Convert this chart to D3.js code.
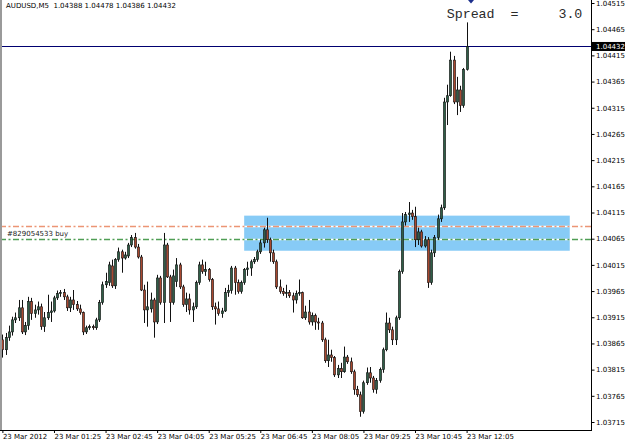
<!DOCTYPE html>
<html>
<head>
<meta charset="utf-8">
<script src="https://cdn.jsdelivr.net/npm/d3@7"></script>
<style>
  body { margin: 0; background: #fff; }
  svg { display: block; font-family: "DejaVu Sans", sans-serif; }
</style>
</head>
<body>
<div id="chart"></div>
<script>
var svgWidth = 625;
var svgHeight = 441;

// chart frame: price axis on the right, time axis at the bottom
var plotRight = 592;
var plotBottom = 430;

var symbolTitle = "AUDUSD,M5  1.04388 1.04478 1.04386 1.04432";
var spreadText = "Spread  =     3.0";
var orderLabel = "#829054533 buy";

var firstBar = "2012-03-23 00:05";
var lastBar = "2012-03-23 12:05";
var barMinutes = 5;

// OHLC of every M5 bar
var opens = [
  1.03872, 1.03853, 1.03876, 1.03887, 1.03910, 1.03914, 1.03933, 1.03887, 1.03899, 1.03945,
  1.03922, 1.03929, 1.03935, 1.03897, 1.03914, 1.03924, 1.03927, 1.03952, 1.03960, 1.03962,
  1.03954, 1.03933, 1.03948, 1.03939, 1.03931, 1.03924, 1.03887, 1.03895, 1.03897, 1.03895,
  1.03910, 1.03943, 1.03977, 1.03981, 1.04013, 1.03975, 1.04025, 1.04040, 1.04028, 1.04032,
  1.04053, 1.04067, 1.04049, 1.04030, 1.03967, 1.03929, 1.03931, 1.03948, 1.03906, 1.03990,
  1.03943, 1.04053, 1.03992, 1.03943, 1.03983, 1.04015, 1.03973, 1.03939, 1.03950, 1.03929,
  1.03935, 1.03981, 1.04015, 1.04002, 1.04006, 1.03987, 1.03935, 1.03931, 1.03922, 1.03927,
  1.03962, 1.03966, 1.04009, 1.03981, 1.03964, 1.03981, 1.04006, 1.04009, 1.04021, 1.04025,
  1.04040, 1.04057, 1.04082, 1.04063, 1.04038, 1.04021, 1.03973, 1.03964, 1.03960, 1.03962,
  1.03956, 1.03948, 1.03960, 1.03962, 1.03914, 1.03925, 1.03906, 1.03918, 1.03906, 1.03904,
  1.03872, 1.03832, 1.03843, 1.03838, 1.03805, 1.03817, 1.03811, 1.03839, 1.03830, 1.03811,
  1.03777, 1.03767, 1.03735, 1.03790, 1.03809, 1.03799, 1.03777, 1.03794, 1.03815, 1.03853,
  1.03904, 1.03891, 1.03872, 1.03914, 1.04002, 1.04097, 1.04111, 1.04114, 1.04107, 1.04063,
  1.04078, 1.04051, 1.04063, 1.03981, 1.04038, 1.04067, 1.04103, 1.04124, 1.04326, 1.04338,
  1.04406, 1.04326, 1.04349, 1.04319, 1.04388
];
var highs = [
  1.03882, 1.03885, 1.03899, 1.03916, 1.03924, 1.03948, 1.03948, 1.03906, 1.03954, 1.03952,
  1.03939, 1.03945, 1.03941, 1.03925, 1.03958, 1.03945, 1.03956, 1.03966, 1.03967, 1.03969,
  1.03958, 1.03954, 1.03967, 1.03946, 1.03939, 1.03926, 1.03899, 1.03901, 1.03901, 1.03914,
  1.03948, 1.03983, 1.04000, 1.04021, 1.04025, 1.04028, 1.04048, 1.04044, 1.04040, 1.04057,
  1.04072, 1.04076, 1.04055, 1.04034, 1.03977, 1.03983, 1.03962, 1.03952, 1.03996, 1.03994,
  1.04076, 1.04057, 1.03996, 1.04006, 1.04028, 1.04019, 1.03977, 1.03962, 1.03960, 1.03943,
  1.03985, 1.04021, 1.04025, 1.04021, 1.04009, 1.03990, 1.03943, 1.03945, 1.03933, 1.03971,
  1.03977, 1.04013, 1.04013, 1.03987, 1.03985, 1.04009, 1.04021, 1.04025, 1.04030, 1.04044,
  1.04063, 1.04086, 1.04105, 1.04067, 1.04044, 1.04025, 1.03987, 1.03971, 1.03977, 1.03967,
  1.03962, 1.03966, 1.03987, 1.03964, 1.03937, 1.03948, 1.03924, 1.03922, 1.03914, 1.03908,
  1.03876, 1.03872, 1.03853, 1.03841, 1.03824, 1.03828, 1.03859, 1.03843, 1.03838, 1.03815,
  1.03784, 1.03773, 1.03794, 1.03819, 1.03820, 1.03803, 1.03799, 1.03819, 1.03857, 1.03924,
  1.03914, 1.03897, 1.03918, 1.04006, 1.04114, 1.04116, 1.04135, 1.04120, 1.04126, 1.04086,
  1.04082, 1.04070, 1.04068, 1.04044, 1.04072, 1.04111, 1.04130, 1.04334, 1.04359, 1.04422,
  1.04414, 1.04374, 1.04357, 1.04391, 1.04478
];
var lows = [
  1.03838, 1.03843, 1.03870, 1.03880, 1.03904, 1.03908, 1.03883, 1.03881, 1.03891, 1.03910,
  1.03914, 1.03920, 1.03891, 1.03887, 1.03910, 1.03906, 1.03924, 1.03948, 1.03954, 1.03948,
  1.03927, 1.03925, 1.03929, 1.03927, 1.03920, 1.03881, 1.03883, 1.03891, 1.03891, 1.03891,
  1.03906, 1.03939, 1.03971, 1.03975, 1.03971, 1.03969, 1.04021, 1.04000, 1.04025, 1.04028,
  1.04049, 1.04046, 1.04027, 1.03965, 1.03904, 1.03897, 1.03924, 1.03876, 1.03902, 1.03939,
  1.03904, 1.03990, 1.03906, 1.03939, 1.03973, 1.03969, 1.03935, 1.03925, 1.03920, 1.03906,
  1.03931, 1.03977, 1.03998, 1.03994, 1.03983, 1.03929, 1.03901, 1.03918, 1.03914, 1.03925,
  1.03954, 1.03960, 1.03958, 1.03960, 1.03960, 1.03977, 1.03994, 1.03994, 1.04017, 1.04021,
  1.04036, 1.04048, 1.04057, 1.04021, 1.04017, 1.03969, 1.03960, 1.03956, 1.03952, 1.03952,
  1.03924, 1.03941, 1.03956, 1.03912, 1.03910, 1.03901, 1.03899, 1.03891, 1.03891, 1.03868,
  1.03828, 1.03820, 1.03830, 1.03801, 1.03799, 1.03799, 1.03809, 1.03826, 1.03807, 1.03767,
  1.03763, 1.03725, 1.03731, 1.03786, 1.03790, 1.03771, 1.03769, 1.03790, 1.03809, 1.03850,
  1.03885, 1.03862, 1.03862, 1.03910, 1.03998, 1.04090, 1.04097, 1.04101, 1.04049, 1.04053,
  1.04048, 1.04048, 1.03971, 1.03977, 1.04030, 1.04063, 1.04097, 1.04120, 1.04282, 1.04336,
  1.04322, 1.04301, 1.04307, 1.04315, 1.04386
];
var closes = [
  1.03853, 1.03876, 1.03887, 1.03910, 1.03914, 1.03933, 1.03887, 1.03899, 1.03945, 1.03922,
  1.03929, 1.03935, 1.03897, 1.03914, 1.03924, 1.03927, 1.03952, 1.03960, 1.03962, 1.03954,
  1.03933, 1.03948, 1.03939, 1.03931, 1.03924, 1.03887, 1.03895, 1.03897, 1.03895, 1.03910,
  1.03943, 1.03977, 1.03983, 1.04015, 1.03975, 1.04025, 1.04040, 1.04028, 1.04034, 1.04053,
  1.04067, 1.04049, 1.04030, 1.03967, 1.03929, 1.03935, 1.03948, 1.03906, 1.03990, 1.03943,
  1.04053, 1.03992, 1.03943, 1.03994, 1.04015, 1.03973, 1.03939, 1.03950, 1.03929, 1.03935,
  1.03981, 1.04015, 1.04002, 1.04006, 1.03987, 1.03935, 1.03931, 1.03922, 1.03927, 1.03962,
  1.03966, 1.04009, 1.03981, 1.03964, 1.03981, 1.04006, 1.04009, 1.04021, 1.04025, 1.04040,
  1.04057, 1.04082, 1.04063, 1.04038, 1.04021, 1.03973, 1.03964, 1.03960, 1.03962, 1.03956,
  1.03948, 1.03960, 1.03962, 1.03914, 1.03925, 1.03906, 1.03918, 1.03906, 1.03904, 1.03872,
  1.03832, 1.03843, 1.03838, 1.03805, 1.03817, 1.03811, 1.03839, 1.03830, 1.03811, 1.03777,
  1.03767, 1.03735, 1.03790, 1.03809, 1.03799, 1.03777, 1.03794, 1.03815, 1.03853, 1.03904,
  1.03891, 1.03872, 1.03914, 1.04002, 1.04097, 1.04111, 1.04114, 1.04107, 1.04063, 1.04078,
  1.04051, 1.04063, 1.03981, 1.04038, 1.04067, 1.04103, 1.04124, 1.04326, 1.04338, 1.04406,
  1.04326, 1.04349, 1.04319, 1.04388, 1.04432
];

var bidPrice = 1.04432;

// price axis labels
var yTicks = [1.04515, 1.04465, 1.04415, 1.04365, 1.04315, 1.04265, 1.04215, 1.04165, 1.04115,
  1.04065, 1.04015, 1.03965, 1.03915, 1.03865, 1.03815, 1.03765, 1.03715];

// time axis labels
var xTickTimes = ["2012-03-23 00:05", "2012-03-23 01:25", "2012-03-23 02:45", "2012-03-23 04:05",
  "2012-03-23 05:25", "2012-03-23 06:45", "2012-03-23 08:05", "2012-03-23 09:25",
  "2012-03-23 10:45", "2012-03-23 12:05"];
var xTickLabels = ["23 Mar 2012", "23 Mar 01:25", "23 Mar 02:45", "23 Mar 04:05", "23 Mar 05:25",
  "23 Mar 06:45", "23 Mar 08:05", "23 Mar 09:25", "23 Mar 10:45", "23 Mar 12:05"];

// order levels (dash-dot lines) and the highlighted rectangle
var levelPrices = [1.04089, 1.04065];
var levelColors = ["#ec9574", "#4f9e55"];
var zoneTimes = ["2012-03-23 06:20", "2012-03-23 14:45"];
var zonePrices = [1.04109, 1.04042];

var parseTime = d3.timeParse("%Y-%m-%d %H:%M");
var t0 = parseTime(firstBar);

var bars = closes.map(function(c, i) {
  return {
    t: new Date(t0.getTime() + i * barMinutes * 60000),
    o: opens[i], h: highs[i], l: lows[i], c: c
  };
});

var svg = d3.select("#chart")
  .append("svg")
  .attr("width", svgWidth)
  .attr("height", svgHeight);

svg.append("rect")
  .attr("width", svgWidth)
  .attr("height", svgHeight)
  .attr("fill", "#fff");

var x = d3.scaleTime()
  .domain([t0, parseTime(lastBar)])
  .range([2.4, 466.6]);

var y = d3.scaleLinear()
  .domain([1.03715, 1.04515])
  .range([422, 3]);

// highlighted zone
svg.append("rect")
  .attr("x", x(parseTime(zoneTimes[0])))
  .attr("y", y(zonePrices[0]))
  .attr("width", x(parseTime(zoneTimes[1])) - x(parseTime(zoneTimes[0])))
  .attr("height", y(zonePrices[1]) - y(zonePrices[0]))
  .attr("fill", "#87cbf6");

// order levels, white under the gaps like the terminal draws them
levelPrices.forEach(function(p, i) {
  var ly = Math.round(y(p)) + 0.5;
  svg.append("line")
    .attr("x1", 0).attr("x2", plotRight)
    .attr("y1", ly).attr("y2", ly)
    .attr("stroke", "#fff")
    .attr("stroke-width", 1.5);
  svg.append("line")
    .attr("x1", 0).attr("x2", plotRight)
    .attr("y1", ly).attr("y2", ly)
    .attr("stroke", levelColors[i])
    .attr("stroke-width", 1.5)
    .attr("stroke-dasharray", "6,2.5,2,2.5");
});

svg.append("text")
  .attr("x", 7)
  .attr("y", y(levelPrices[1]) - 2.7)
  .attr("font-size", 7)
  .attr("fill", "#222")
  .text(orderLabel);

// bid line
var bidY = Math.round(y(bidPrice)) + 0.5;
svg.append("line")
  .attr("x1", 0).attr("x2", plotRight)
  .attr("y1", bidY).attr("y2", bidY)
  .attr("stroke", "#000070")
  .attr("stroke-width", 1);

// candles
var candles = svg.append("g").attr("class", "candles");

candles.selectAll("line")
  .data(bars)
  .enter()
  .append("line")
  .attr("x1", d => Math.round(x(d.t)) + 0.5)
  .attr("x2", d => Math.round(x(d.t)) + 0.5)
  .attr("y1", d => y(d.h))
  .attr("y2", d => y(d.l))
  .attr("stroke", "#111")
  .attr("stroke-width", 1);

candles.selectAll("rect")
  .data(bars)
  .enter()
  .append("rect")
  .attr("x", d => Math.round(x(d.t)) - 0.6)
  .attr("width", 2.2)
  .attr("y", d => y(Math.max(d.o, d.c)))
  .attr("height", d => Math.max(0.8, Math.abs(y(d.o) - y(d.c))))
  .attr("fill", d => d.c >= d.o ? "#2f5e47" : "#a8482f")
  .attr("stroke", "#111")
  .attr("stroke-width", 0.6);

// frame
svg.append("rect")
  .attr("x", 0).attr("y", 0)
  .attr("width", 2).attr("height", plotBottom)
  .attr("fill", "#9a9a9a");

svg.append("line")
  .attr("x1", plotRight - 0.5).attr("x2", plotRight - 0.5)
  .attr("y1", 0).attr("y2", plotBottom + 0.5)
  .attr("stroke", "#000");

svg.append("line")
  .attr("x1", 0).attr("x2", plotRight)
  .attr("y1", plotBottom + 0.5).attr("y2", plotBottom + 0.5)
  .attr("stroke", "#000");

// price axis
var yAxis = d3.axisRight(y)
  .tickValues(yTicks)
  .tickFormat(d3.format(".5f"))
  .tickSize(3)
  .tickPadding(1);

var yAxisG = svg.append("g")
  .attr("transform", `translate(${plotRight - 0.5}, 0)`)
  .call(yAxis);
yAxisG.select(".domain").remove();
yAxisG.selectAll("text")
  .attr("x", 4.5)
  .attr("font-size", 7)
  .attr("font-family", "DejaVu Sans")
  .attr("fill", "#000");

// current price tag
svg.append("rect")
  .attr("x", plotRight)
  .attr("y", y(bidPrice) - 4.5)
  .attr("width", svgWidth - plotRight)
  .attr("height", 9)
  .attr("fill", "#000");
svg.append("text")
  .attr("x", plotRight + 4)
  .attr("y", y(bidPrice))
  .attr("dy", "0.35em")
  .attr("font-size", 7)
  .attr("fill", "#fff")
  .text(d3.format(".5f")(bidPrice));

// time axis
var xAxis = d3.axisBottom(x)
  .tickValues(xTickTimes.map(parseTime))
  .tickFormat(function(d, i) { return xTickLabels[i]; })
  .tickSize(3);

var xAxisG = svg.append("g")
  .attr("transform", `translate(0, ${plotBottom})`)
  .call(xAxis);
xAxisG.select(".domain").remove();
xAxisG.selectAll("text")
  .attr("text-anchor", "start")
  .attr("x", 0)
  .attr("y", 8.5)
  .attr("dy", null)
  .attr("font-size", 7)
  .attr("font-family", "DejaVu Sans")
  .attr("fill", "#000");

// title and spread info
svg.append("text")
  .attr("x", 6)
  .attr("y", 7.7)
  .attr("font-size", 7)
  .attr("fill", "#000")
  .style("white-space", "pre")
  .text(symbolTitle);

svg.append("text")
  .attr("x", 446.7)
  .attr("y", 18.3)
  .style("font-family", "'Liberation Mono', 'DejaVu Sans Mono', monospace")
  .attr("font-size", 13.3)
  .attr("fill", "#2a2a2a")
  .style("white-space", "pre")
  .text(spreadText);

// chart shift marker above the last bar
var shiftX = x(parseTime(lastBar)) + 4.4;
svg.append("path")
  .attr("d", `M${shiftX - 3},0 L${shiftX + 3},0 L${shiftX},3.5 Z`)
  .attr("fill", "#1c2f8c");
</script>
</body>
</html>
